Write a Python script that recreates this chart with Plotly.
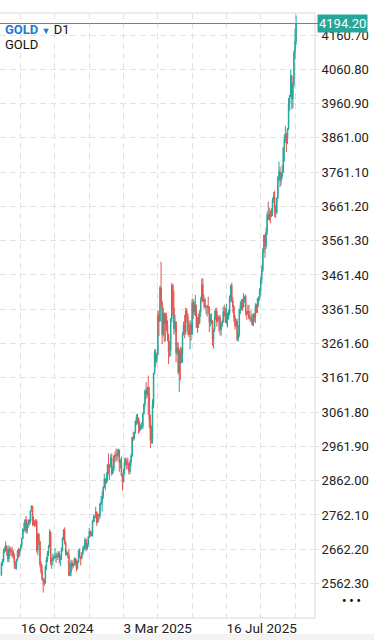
import pandas as pd
import plotly.graph_objects as go

symbol = "GOLD"
timeframe = "D1"
holidays = ["2024-12-25", "2025-01-01", "2025-04-18"]
dates = [d.strftime("%Y-%m-%d") for d in pd.bdate_range("2024-09-20", "2025-10-15")
         if d.strftime("%Y-%m-%d") not in holidays]

opens = [
    2587, 2621, 2628, 2657, 2657, 2672, 2658,
    2634, 2663, 2657, 2656, 2653, 2644, 2622, 2609, 2630, 2657, 2649, 2662, 2674, 2693, 2721, 2720, 2748, 2716, 2736, 2747, 2743, 2774, 2788,
    2744, 2736, 2736, 2743, 2659, 2706, 2685, 2618, 2598, 2573, 2565, 2563, 2611, 2632, 2651, 2670, 2712, 2625, 2633, 2637, 2640,
    2643, 2640, 2643, 2650, 2632, 2633, 2660, 2694, 2718, 2681, 2648, 2652, 2646, 2586, 2595, 2622, 2613, 2617, 2634, 2621, 2606,
    2624, 2658, 2640, 2636, 2649, 2661, 2670, 2690, 2663, 2677, 2697, 2715, 2703, 2708, 2745, 2755, 2755, 2771, 2740, 2763, 2760, 2794,
    2798, 2815, 2843, 2867, 2856, 2861, 2908, 2898, 2905, 2928, 2883, 2898, 2935, 2933, 2939, 2936, 2951, 2915, 2916, 2876,
    2858, 2893, 2918, 2920, 2911, 2910, 2889, 2916, 2934, 2988, 2984, 3001, 3035, 3048, 3044, 3023, 3011, 3020, 3019, 3057, 3085,
    3124, 3113, 3133, 3114, 3038, 2982, 2982, 3083, 3175, 3237, 3211, 3229, 3343, 3327, 3424, 3380, 3288, 3349, 3319, 3343, 3317,
    3288, 3239, 3241, 3334, 3431, 3365, 3305, 3325, 3235, 3249, 3177, 3240, 3205, 3230, 3290, 3315, 3295, 3357, 3342, 3300, 3288, 3317,
    3289, 3381, 3353, 3374, 3352, 3310, 3325, 3322, 3354, 3387, 3433, 3385, 3389, 3369, 3370, 3368, 3368, 3323, 3332, 3328, 3274,
    3303, 3338, 3357, 3326, 3337, 3336, 3302, 3313, 3325, 3355, 3343, 3324, 3347, 3339, 3350, 3397, 3431, 3387, 3368, 3336, 3314, 3326, 3274,
    3289, 3362, 3373, 3380, 3368, 3396, 3398, 3353, 3348, 3356, 3335, 3336, 3332, 3316, 3347, 3338, 3371, 3365, 3393, 3396, 3416,
    3448, 3476, 3533, 3578, 3545, 3586, 3636, 3625, 3640, 3634, 3643, 3679, 3690, 3659, 3644, 3685, 3746, 3763, 3736, 3749, 3760, 3833,
    3858, 3866, 3856, 3887, 3961, 3985, 4041, 3975, 4017, 4110, 4142,
]
highs = [
    2625, 2634, 2664, 2670, 2685, 2674, 2665,
    2673, 2670, 2667, 2670, 2660, 2650, 2627, 2634, 2661, 2666, 2664, 2676, 2695, 2722, 2740, 2749, 2759, 2737, 2749, 2749, 2774, 2790, 2789,
    2758, 2747, 2750, 2749, 2710, 2709, 2686, 2627, 2618, 2580, 2576, 2615, 2639, 2657, 2675, 2721, 2715, 2638, 2650, 2645, 2665,
    2652, 2652, 2657, 2656, 2646, 2668, 2697, 2721, 2726, 2687, 2660, 2654, 2664, 2625, 2632, 2630, 2621, 2639, 2637, 2634, 2629,
    2662, 2665, 2643, 2654, 2670, 2674, 2697, 2692, 2680, 2700, 2724, 2716, 2714, 2746, 2763, 2760, 2786, 2772, 2765, 2767, 2798, 2817,
    2831, 2846, 2882, 2869, 2886, 2911, 2942, 2910, 2938, 2942, 2905, 2936, 2947, 2955, 2954, 2956, 2953, 2926, 2932, 2882,
    2897, 2928, 2930, 2926, 2930, 2915, 2922, 2940, 2990, 3005, 3004, 3038, 3055, 3058, 3047, 3036, 3028, 3033, 3060, 3087, 3128,
    3149, 3136, 3168, 3136, 3055, 3023, 3099, 3176, 3245, 3245, 3232, 3358, 3357, 3430, 3500, 3386, 3367, 3352, 3352, 3350, 3329,
    3290, 3269, 3336, 3438, 3435, 3416, 3345, 3326, 3266, 3265, 3245, 3252, 3250, 3295, 3325, 3345, 3366, 3365, 3350, 3325, 3330, 3325,
    3392, 3392, 3385, 3403, 3375, 3339, 3348, 3360, 3398, 3452, 3451, 3404, 3395, 3374, 3374, 3398, 3370, 3348, 3350, 3329, 3305,
    3358, 3365, 3366, 3345, 3343, 3345, 3323, 3330, 3369, 3375, 3366, 3377, 3352, 3361, 3402, 3433, 3439, 3397, 3373, 3345, 3334, 3334, 3315,
    3363, 3385, 3391, 3391, 3409, 3401, 3404, 3358, 3375, 3374, 3345, 3358, 3345, 3350, 3351, 3379, 3377, 3394, 3399, 3423, 3454,
    3490, 3540, 3578, 3580, 3600, 3646, 3675, 3658, 3650, 3656, 3686, 3703, 3707, 3666, 3687, 3749, 3791, 3777, 3761, 3782, 3834, 3872,
    3896, 3876, 3890, 3977, 3985, 4059, 4045, 4022, 4116, 4179, 4218,
]
lows = [
    2584, 2613, 2624, 2651, 2655, 2643, 2625,
    2624, 2643, 2642, 2639, 2634, 2605, 2604, 2603, 2627, 2637, 2641, 2656, 2665, 2692, 2711, 2714, 2709, 2707, 2724, 2731, 2736, 2772, 2730,
    2731, 2728, 2728, 2652, 2644, 2675, 2610, 2590, 2572, 2536, 2555, 2562, 2602, 2625, 2642, 2667, 2615, 2605, 2615, 2628, 2634,
    2622, 2630, 2637, 2621, 2613, 2631, 2656, 2689, 2676, 2643, 2643, 2635, 2584, 2583, 2584, 2602, 2609, 2614, 2615, 2597, 2603,
    2623, 2636, 2615, 2632, 2644, 2656, 2664, 2656, 2660, 2669, 2695, 2698, 2700, 2699, 2741, 2742, 2754, 2730, 2738, 2745, 2752, 2791,
    2772, 2809, 2840, 2834, 2853, 2860, 2880, 2864, 2902, 2876, 2881, 2890, 2915, 2921, 2918, 2930, 2888, 2897, 2875, 2833,
    2857, 2880, 2906, 2894, 2897, 2880, 2881, 2906, 2931, 2977, 2982, 2999, 3024, 3028, 2999, 3002, 3008, 3012, 3013, 3055, 3076,
    3100, 3105, 3054, 3015, 2957, 2970, 2970, 3073, 3172, 3193, 3205, 3228, 3283, 3325, 3367, 3260, 3282, 3266, 3268, 3297, 3268,
    3202, 3222, 3225, 3323, 3343, 3287, 3293, 3207, 3228, 3171, 3120, 3154, 3205, 3205, 3285, 3277, 3287, 3324, 3286, 3280, 3245, 3270,
    3287, 3333, 3344, 3340, 3307, 3293, 3307, 3318, 3340, 3384, 3381, 3365, 3363, 3347, 3340, 3348, 3295, 3311, 3318, 3255, 3247,
    3296, 3330, 3311, 3323, 3296, 3287, 3283, 3310, 3322, 3341, 3321, 3319, 3309, 3331, 3345, 3383, 3381, 3351, 3325, 3302, 3308, 3268, 3268,
    3281, 3347, 3358, 3357, 3366, 3381, 3343, 3331, 3345, 3332, 3326, 3323, 3315, 3311, 3325, 3321, 3350, 3351, 3369, 3386, 3402,
    3436, 3470, 3525, 3511, 3537, 3578, 3621, 3620, 3612, 3630, 3633, 3672, 3630, 3628, 3639, 3682, 3736, 3717, 3722, 3742, 3759, 3792,
    3846, 3820, 3843, 3884, 3940, 3980, 3944, 3947, 4008, 4090, 4132,
]
closes = [
    2621, 2628, 2657, 2657, 2672, 2658, 2634,
    2663, 2657, 2656, 2653, 2644, 2622, 2609, 2630, 2657, 2649, 2662, 2674, 2693, 2721, 2720, 2748, 2716, 2736, 2747, 2743, 2774, 2788, 2744,
    2736, 2736, 2743, 2659, 2706, 2685, 2618, 2598, 2573, 2565, 2563, 2611, 2632, 2651, 2670, 2712, 2625, 2633, 2637, 2640, 2643,
    2640, 2643, 2650, 2632, 2633, 2660, 2694, 2718, 2681, 2648, 2652, 2646, 2586, 2595, 2622, 2613, 2617, 2634, 2621, 2606, 2624,
    2658, 2640, 2636, 2649, 2661, 2670, 2690, 2663, 2677, 2697, 2715, 2703, 2708, 2745, 2755, 2755, 2771, 2740, 2763, 2760, 2794, 2798,
    2815, 2843, 2867, 2856, 2861, 2908, 2898, 2905, 2928, 2883, 2898, 2935, 2933, 2939, 2936, 2951, 2915, 2916, 2876, 2858,
    2893, 2918, 2920, 2911, 2910, 2889, 2916, 2934, 2988, 2984, 3001, 3035, 3048, 3044, 3023, 3011, 3020, 3019, 3057, 3085, 3124,
    3113, 3133, 3114, 3038, 2982, 2984, 3083, 3175, 3237, 3211, 3229, 3343, 3327, 3424, 3380, 3288, 3349, 3319, 3343, 3317, 3288,
    3239, 3241, 3334, 3431, 3365, 3305, 3325, 3235, 3249, 3177, 3240, 3205, 3230, 3290, 3315, 3295, 3357, 3342, 3300, 3288, 3317, 3289,
    3381, 3353, 3374, 3352, 3310, 3325, 3322, 3354, 3387, 3433, 3385, 3389, 3369, 3370, 3368, 3368, 3323, 3332, 3328, 3274, 3303,
    3338, 3357, 3326, 3337, 3336, 3302, 3313, 3325, 3355, 3343, 3324, 3347, 3339, 3350, 3397, 3431, 3387, 3368, 3336, 3314, 3326, 3274, 3289,
    3362, 3373, 3380, 3368, 3396, 3398, 3353, 3348, 3356, 3335, 3336, 3332, 3316, 3347, 3338, 3371, 3365, 3393, 3396, 3416, 3448,
    3476, 3533, 3578, 3545, 3586, 3636, 3625, 3640, 3634, 3643, 3679, 3690, 3659, 3644, 3685, 3746, 3763, 3736, 3749, 3760, 3833, 3858,
    3866, 3856, 3887, 3961, 3985, 4041, 3975, 4017, 4110, 4142, 4194.20,
]
assert len(dates) == len(opens) == len(highs) == len(lows) == len(closes)

ytick_vals = [2562.30, 2662.20, 2762.10, 2862.00, 2961.90, 3061.80, 3161.70, 3261.60,
              3361.50, 3461.40, 3561.30, 3661.20, 3761.10, 3861.00, 3960.90, 4060.80, 4160.70]
y_range = [2461.8, 4224.8]
label_dates = ["2024-10-16", "2025-03-03", "2025-07-16"]

UP = "#26a69a"
DOWN = "#e5534f"
GRID = "#e2e2e2"
FONT = "Roboto"

# x-axis layout (bars per grid cell / pixel positions)
bars_per_grid = 32
px_per_bar = 34.29 / bars_per_grid
plot_w = 315
first_label_idx = dates.index(label_dates[0])
x0 = first_label_idx - 20.7 / px_per_bar
x_range = [x0, x0 + plot_w / px_per_bar]

grid_idx = list(range(first_label_idx, len(dates), bars_per_grid))
tickvals = [dates[i] for i in grid_idx]
def fmt(d):
    ts = pd.Timestamp(d)
    return f"{ts.day} {ts.strftime('%b %Y')}"
ticktext = [fmt(dates[i]) if dates[i] in label_dates else "" for i in grid_idx]

fig = go.Figure(go.Candlestick(
    x=dates, open=opens, high=highs, low=lows, close=closes,
    increasing=dict(line=dict(color=UP, width=1), fillcolor=UP),
    decreasing=dict(line=dict(color=DOWN, width=1), fillcolor=DOWN),
    whiskerwidth=0, hoverinfo="skip",
))

last = closes[-1]
fig.update_layout(
    width=374, height=640,
    margin=dict(l=0, r=59, t=13, b=22),
    paper_bgcolor="white", plot_bgcolor="white",
    showlegend=False,
    font=dict(family=FONT, size=13, color="#222222"),
    xaxis=dict(
        type="category", range=x_range, rangeslider=dict(visible=False),
        tickmode="array", tickvals=tickvals, ticktext=ticktext,
        showgrid=True, gridcolor=GRID, griddash="6px,4px", gridwidth=1,
        ticks="", showline=False, zeroline=False,
        ticklabelposition="outside right",
        tickfont=dict(family=FONT, size=13.5, color="#222222"),
    ),
    yaxis=dict(
        side="right", range=y_range,
        tickmode="array", tickvals=ytick_vals, ticktext=[f"{v:.2f}" for v in ytick_vals],
        showgrid=True, gridcolor=GRID, griddash="6px,4px", gridwidth=1,
        ticks="outside", ticklen=3, tickcolor=GRID, showline=False, zeroline=False,
        tickfont=dict(family=FONT, size=13, color="#222222"),
    ),
    shapes=[
        dict(type="line", xref="paper", yref="paper", x0=0, x1=1, y0=1, y1=1, line=dict(color="#d8d8d8", width=1)),
        dict(type="line", xref="paper", yref="paper", x0=1, x1=1, y0=0, y1=1, line=dict(color="#d8d8d8", width=1)),
        dict(type="line", xref="paper", yref="paper", x0=0, x1=1, y0=0, y1=0, line=dict(color="#d8d8d8", width=1)),
        dict(type="rect", xref="paper", yref="paper", x0=-0.01, x1=1.2, y0=-0.037, y1=-0.0265,
             fillcolor="#f3f3f3", line=dict(width=0), layer="below"),
        dict(type="line", xref="paper", yref="y", x0=0, x1=1.01, y0=last, y1=last, line=dict(color=UP, width=1)),
    ],
    annotations=[
        dict(xref="paper", yref="y", x=1, y=last, xanchor="left", yanchor="middle", xshift=2,
             text=f"{last:.2f}", showarrow=False, bgcolor=UP, borderpad=1,
             font=dict(family=FONT, size=13, color="white")),
        dict(xref="paper", yref="paper", x=0, y=1, xanchor="left", yanchor="middle", xshift=3, yshift=-16.5,
             text=f'<span style="color:#1e7ad6"><b>{symbol}</b> <span style="font-size:9px">▼</span></span> {timeframe}',
             showarrow=False, font=dict(family=FONT, size=13, color="#111111")),
        dict(xref="paper", yref="paper", x=0, y=1, xanchor="left", yanchor="middle", xshift=3, yshift=-31.5,
             text=symbol, showarrow=False, font=dict(family=FONT, size=13, color="#111111")),
        dict(xref="paper", yref="paper", x=1, y=0, xanchor="center", yanchor="middle", xshift=36, yshift=17,
             text="<b>• • •</b>", showarrow=False, font=dict(family=FONT, size=12, color="#111111")),
    ],
)

fig.write_html("out.html")
